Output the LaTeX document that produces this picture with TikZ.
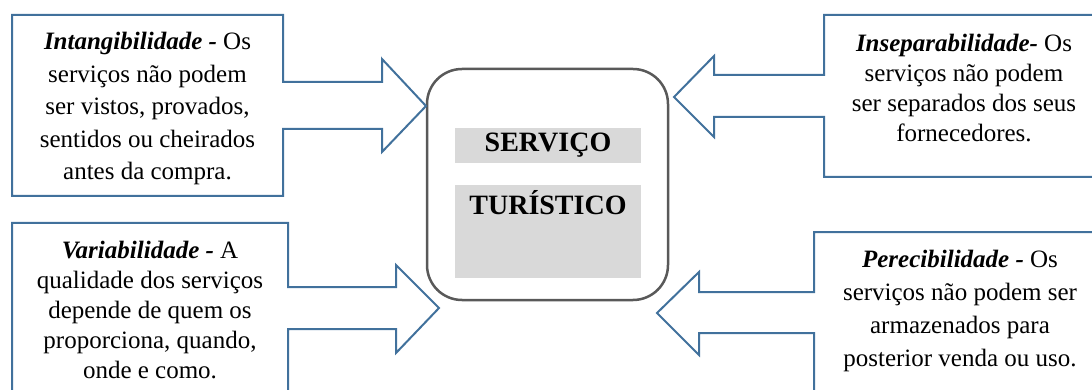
\documentclass[tikz,border=0pt]{standalone}
\usepackage{fontspec}
\setmainfont{Liberation Serif}
\usetikzlibrary{positioning}

\definecolor{calloutblue}{HTML}{41719C}
\definecolor{boxgray}{HTML}{D9D9D9}
\definecolor{framegray}{HTML}{595959}

\begin{document}
\begin{tikzpicture}[
    x=1pt, y=-1pt,
    callout/.style={draw=calloutblue, line width=2pt, line join=miter},
    desc/.style={align=center, inner sep=0pt, font=\fontsize{25}{32}\selectfont},
    graybox/.style={fill=boxgray, minimum width=186pt, inner sep=0pt},
    title/.style={font=\fontsize{28}{32}\selectfont\bfseries, inner sep=0pt}
]
\clip (0,0) rectangle (1092,390);

% --- Servico turistico (centre) ---
\node[draw=framegray, line width=2.5pt, rounded corners=35pt,
      minimum width=241pt, minimum height=231pt] (servico) at (547.5,184.5) {};
\node[graybox, minimum height=35pt] (g1) at (548,145.5) {};
\node[graybox, minimum height=93pt, below=22pt of g1] (g2) {};
\node[title] (t1) at (g1) {SERVIÇO};
\node[title] (t2) at (548,203) {TURÍSTICO};

% --- Intangibilidade ---
\draw[callout] (12,15) -- (283,15) -- (283,82) -- (382,82) -- (382,59)
    -- (426,106) -- (382,152) -- (382,129) -- (283,129) -- (283,196)
    -- (12,196) -- cycle;
\node[desc, font=\fontsize{25}{32.5}\selectfont] (intang) at (147.5,108.5)
    {\textbf{\textit{Intangibilidade -}} Os\\serviços não podem\\ser vistos, provados,\\sentidos ou cheirados\\antes da compra.};

% --- Variabilidade ---
\draw[callout] (12,223) -- (288,223) -- (288,287) -- (396,287) -- (396,265)
    -- (439,308) -- (396,353) -- (396,329) -- (288,329) -- (288,400)
    -- (12,400) -- cycle;
\node[desc, font=\fontsize{25}{30}\selectfont] (varia) at (150,310)
    {\textbf{\textit{Variabilidade -}} A\\qualidade dos serviços\\depende de quem os\\proporciona, quando,\\onde e como.};

% --- Inseparabilidade ---
\draw[callout] (824,15) -- (1100,15) -- (1100,177) -- (824,177) -- (824,117)
    -- (714,117) -- (714,137) -- (674,97) -- (714,56) -- (714,75)
    -- (824,75) -- cycle;
\node[desc, font=\fontsize{25}{30}\selectfont] (insep) at (964,88)
    {\textbf{\textit{Inseparabilidade-}} Os\\serviços não podem\\ser separados dos seus\\fornecedores.};

% --- Perecibilidade ---
\draw[callout] (814,232) -- (1100,232) -- (1100,400) -- (814,400) -- (814,333)
    -- (699,333) -- (699,355) -- (657,313) -- (699,272) -- (699,292)
    -- (814,292) -- cycle;
\node[desc, font=\fontsize{25}{33}\selectfont] (perec) at (960,311)
    {\textbf{\textit{Perecibilidade -}} Os\\serviços não podem ser\\armazenados para\\posterior venda ou uso.};

\end{tikzpicture}
\end{document}
